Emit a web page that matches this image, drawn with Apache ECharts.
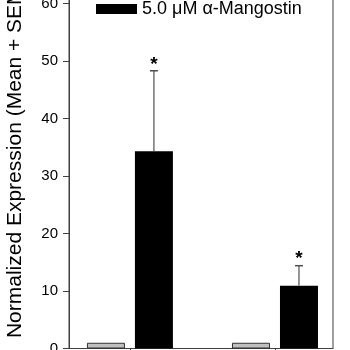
<!DOCTYPE html>
<html>
<head>
<meta charset="utf-8">
<script src="https://cdn.jsdelivr.net/npm/echarts@6/dist/echarts.min.js"></script>
<style>html,body{margin:0;padding:0;background:#fff;}#c{width:350px;height:350px;}</style>
</head>
<body>
<div id="c"></div>
<script>
var groupPositions = [1, 2];
var controlValues = [1.0, 1.0];
var mangostinValues = [34.3, 10.9];
var mangostinSem = [14.0, 3.5];
var significance = ['*', '*'];
var yTicks = [0, 10, 20, 30, 40, 50, 60, 70];

var FONT = "'Liberation Sans', Arial, sans-serif";
var BAR_W = 38, BAR_GAP = 10;

var chart = echarts.init(document.getElementById('c'), null, {renderer: 'canvas'});
chart.setOption({
  animation: false,
  backgroundColor: '#fff',
  grid: {left: 69, right: 17, top: -54, bottom: 1.5, outerBoundsMode: 'none', containLabel: false,
         show: true, borderColor: '#404040', borderWidth: 1, backgroundColor: 'transparent'},
  legend: {
    data: ['5.0 \u03bcM \u03b1-Mangostin'],
    left: 96, top: 0,
    itemWidth: 41, itemHeight: 10, itemGap: 10, padding: 0,
    textStyle: {fontFamily: FONT, fontSize: 18, color: '#000', padding: [4, 0, 0, 0]},
    icon: 'rect'
  },
  xAxis: {
    type: 'value', min: 0.58, max: 2.4,
    axisLine: {show: true, lineStyle: {color: '#404040', width: 1}},
    axisTick: {show: true, length: 5, customValues: groupPositions, lineStyle: {color: '#404040'}},
    axisLabel: {show: false},
    splitLine: {show: false}
  },
  yAxis: {
    type: 'value', min: yTicks[0], max: yTicks[yTicks.length - 1], interval: 10,
    name: 'Normalized Expression (Mean + SEM)',
    nameLocation: 'middle', nameGap: 43,
    nameTextStyle: {fontFamily: FONT, fontSize: 21, color: '#000', padding: [0, 24, 0, 0]},
    axisLine: {show: true, lineStyle: {color: '#404040', width: 1}},
    axisTick: {show: true, length: 6, inside: false, lineStyle: {color: '#404040'}},
    axisLabel: {fontFamily: FONT, fontSize: 15, color: '#000', margin: 11},
    splitLine: {show: false}
  },
  series: [
    {
      name: 'Control', type: 'bar', barWidth: BAR_W, barGap: (BAR_GAP / BAR_W * 100) + '%',
      data: groupPositions.map(function (x, i) { return [x, controlValues[i]]; }),
      itemStyle: {color: '#c0c0c0', borderColor: '#303030', borderWidth: 1}
    },
    {
      name: '5.0 \u03bcM \u03b1-Mangostin', type: 'bar', barWidth: BAR_W,
      data: groupPositions.map(function (x, i) { return [x, mangostinValues[i]]; }),
      itemStyle: {color: '#000'}
    },
    {
      name: 'SEM', type: 'custom',
      data: groupPositions.map(function (x, i) { return [x, mangostinValues[i], mangostinValues[i] + mangostinSem[i], i]; }),
      renderItem: function (params, api) {
        var off = (BAR_W + BAR_GAP) / 2;
        var lo = api.coord([api.value(0), api.value(1)]);
        var hi = api.coord([api.value(0), api.value(2)]);
        var x = lo[0] + off;
        var cap = 4;
        return {
          type: 'group',
          children: [
            {type: 'line', shape: {x1: x, y1: lo[1], x2: x, y2: hi[1]}, style: {stroke: '#505050', lineWidth: 1.2}},
            {type: 'line', shape: {x1: x - cap, y1: hi[1], x2: x + cap, y2: hi[1]}, style: {stroke: '#505050', lineWidth: 1.5}},
            {type: 'text', x: x, y: hi[1] + 3, style: {text: significance[api.value(3)], fill: '#000', font: 'bold 19px ' + FONT, align: 'center', verticalAlign: 'bottom'}}
          ]
        };
      },
      z: 5
    }
  ]
});
</script>
</body>
</html>
